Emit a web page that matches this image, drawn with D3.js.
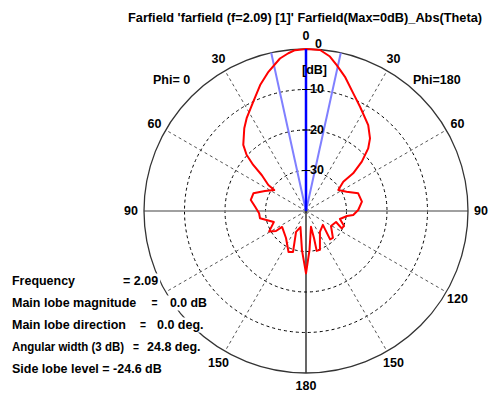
<!DOCTYPE html>
<html>
<head>
<meta charset="utf-8">
<script src="https://cdn.jsdelivr.net/npm/d3@7"></script>
<style>
  body { margin: 0; background: #fff; }
  svg text { font-family: "Liberation Sans", Arial, sans-serif; font-weight: bold; font-size: 12.5px; fill: #000; }
</style>
</head>
<body>
<svg id="chart" width="489" height="394"></svg>
<script>
// Farfield summary values
const frequency = 2.09;
const mainLobeMagnitude = 0.0;
const mainLobeDirection = 0.0;
const angularWidth3dB = 24.8;
const sideLobeLevel = -24.6;

// Polar grid
const dbTicks = [0, -10, -20, -30];
const dbMin = -40;
const angleTicks = [0, 30, 60, 90, 120, 150, 180];
const spokeAngles = [30, 60, 120, 150];

// Abs(Theta) pattern, Phi = 0 half (theta in degrees, level in dB)
const phi0Theta = [0, 3.9, 6.4, 9.7, 15.1, 20.0, 25.7, 32.6, 36.7, 43.5,
  46.6, 48.9, 50.9, 55.4, 56.5, 64.0, 71.4, 78.7, 85.2, 92.8,
  99.0, 109.0, 119.0, 123.7, 123.7, 143.5, 156.9, 162.4, 154.5, 161.0,
  174.1, 180];
const phi0Db = [0, -0.2, -0.8, -1.8, -4.4, -6.9, -10.0, -12.8, -14.5, -17.5,
  -19.8, -22.7, -25.9, -28.7, -30.6, -28.7, -26.3, -26.1, -27.4, -28.4,
  -28.5, -31.6, -29.6, -31.1, -32.9, -31.7, -29.0, -29.4, -34.3, -35.8,
  -30.3, -24.6];

// Abs(Theta) pattern, Phi = 180 half
const phi180Theta = [0, 5.0, 8.8, 11.9, 16.2, 21.9, 27.4, 35.9, 41.4, 44.8,
  48.5, 51.4, 51.9, 57.0, 64.6, 71.3, 80.5, 88.9, 94.8, 97.0,
  103.2, 111.5, 115.9, 110.1, 121.0, 135.0, 139.7, 129.5, 146.3, 160.3,
  165.0, 163.5, 162.6, 174.9, 180];
const phi180Db = [0, -0.1, -1.4, -3.2, -5.5, -8.7, -11.0, -13.8, -16.1, -18.2,
  -21.6, -25.1, -28.3, -30.5, -28.9, -26.4, -26.0, -27.1, -28.3, -29.8,
  -31.4, -29.9, -30.2, -32.1, -32.8, -30.6, -30.8, -34.6, -33.8, -29.8,
  -29.8, -33.0, -35.9, -30.3, -24.6];

const svg = d3.select("#chart");
const cx = 306, cy = 211, R = 162;

const r = d3.scaleLinear().domain([dbMin, 0]).range([0, R]);
// signed theta: Phi=0 side drawn to the left (negative), Phi=180 to the right
const ang = d3.scaleLinear().domain([-180, 180]).range([-Math.PI, Math.PI]);
const px = (a, rr) => cx + rr * Math.sin(ang(a));
const py = (a, rr) => cy - rr * Math.cos(ang(a));

const g = svg.append("g");

// dashed level rings
g.selectAll("circle.ring").data(dbTicks.filter(d => d > dbMin && d < 0)).join("circle")
  .attr("cx", cx).attr("cy", cy).attr("r", d => r(d))
  .attr("fill", "none").attr("stroke", "#000").attr("stroke-width", 1)
  .attr("stroke-dasharray", "3,3");

// dashed spokes on both halves
const spokes = spokeAngles.flatMap(a => [-a, a]);
g.selectAll("line.spoke").data(spokes).join("line")
  .attr("x1", cx).attr("y1", cy)
  .attr("x2", d => px(d, R)).attr("y2", d => py(d, R))
  .attr("stroke", "#555").attr("stroke-width", 1).attr("stroke-dasharray", "3,3");

// 90 axis
g.append("line")
  .attr("x1", px(-90, R)).attr("y1", py(-90, R))
  .attr("x2", px(90, R)).attr("y2", py(90, R))
  .attr("stroke", "#808080").attr("stroke-width", 1.6);
// 180 axis (lower half)
g.append("line")
  .attr("x1", cx).attr("y1", cy)
  .attr("x2", px(180, R)).attr("y2", py(180, R))
  .attr("stroke", "#000").attr("stroke-width", 1.2);

// outer ring
g.append("circle").attr("cx", cx).attr("cy", cy).attr("r", r(0))
  .attr("fill", "none").attr("stroke", "#333").attr("stroke-width", 1.3);

// 3 dB beamwidth limits
g.selectAll("line.bw").data([mainLobeDirection - angularWidth3dB / 2, mainLobeDirection + angularWidth3dB / 2]).join("line")
  .attr("x1", cx).attr("y1", cy)
  .attr("x2", d => px(d, R)).attr("y2", d => py(d, R))
  .attr("stroke", "#8080ff").attr("stroke-width", 2);

// pattern curve
const pts = phi0Theta.map((t, i) => ({ a: -t, db: phi0Db[i] }))
  .concat(phi180Theta.map((t, i) => ({ a: t, db: phi180Db[i] })).reverse().slice(1, -1));
const radial = d3.lineRadial()
  .angle(d => ang(d.a))
  .radius(d => r(Math.max(dbMin, d.db)))
  .curve(d3.curveLinearClosed);
g.append("path").attr("transform", `translate(${cx},${cy})`)
  .attr("d", radial(pts))
  .attr("fill", "none").attr("stroke", "#ff0000").attr("stroke-width", 2)
  .attr("stroke-linejoin", "round");

// main lobe direction
g.append("line")
  .attr("x1", cx).attr("y1", cy)
  .attr("x2", px(mainLobeDirection, r(mainLobeMagnitude))).attr("y2", py(mainLobeDirection, r(mainLobeMagnitude)))
  .attr("stroke", "#0000ff").attr("stroke-width", 2.5);

// level ticks on the vertical axis
g.selectAll("line.tick").data(dbTicks.filter(d => d < 0)).join("line")
  .attr("x1", cx - 4).attr("x2", cx + 4)
  .attr("y1", d => cy - r(d)).attr("y2", d => cy - r(d))
  .attr("stroke", "#000").attr("stroke-width", 1);

// level labels
g.selectAll("text.db").data(dbTicks).join("text")
  .attr("x", d => cx + (d === 0 ? 9 : 4))
  .attr("y", d => cy - r(d) + (d === 0 ? -1 : 3.5))
  .text(d => Math.abs(d));
g.append("text").attr("x", cx - 4).attr("y", 74).text("[dB]");

// angle labels on both halves (the lower-left 120 sits under the summary block)
const angleLabels = angleTicks.flatMap(a => (a === 0 || a === 180) ? [a] : [-a, a])
  .filter(a => a !== -120);
g.selectAll("text.ang").data(angleLabels).join("text")
  .attr("x", d => px(d, R + 13)).attr("y", d => py(d, R + 13))
  .attr("text-anchor", "middle").attr("dominant-baseline", "central")
  .text(d => Math.abs(d));

g.append("text").attr("x", 153).attr("y", 83.5).text("Phi= 0");
g.append("text").attr("x", 413).attr("y", 84).text("Phi=180");

// title
svg.append("text").attr("x", 128).attr("y", 21.5)
  .attr("textLength", 354).attr("lengthAdjust", "spacingAndGlyphs")
  .text(`Farfield 'farfield (f=${frequency.toFixed(2)}) [1]' Farfield(Max=0dB)_Abs(Theta)`);

// summary block, each line on an opaque background: [text, x, max width]
const rows = [
  [["Frequency", 12, 63], [`= ${frequency.toFixed(2)}`, 123, 47]],
  [["Main lobe magnitude", 12, 125], ["=", 151.5, 6], [`${mainLobeMagnitude.toFixed(1)} dB`, 170, 37]],
  [["Main lobe direction", 12, 115], ["=", 140, 6], [`${mainLobeDirection.toFixed(1)} deg.`, 157, 49]],
  [["Angular width (3 dB)", 12, 112], ["=", 133, 6], [`${angularWidth3dB.toFixed(1)} deg.`, 147, 58]],
  [[`Side lobe level = ${sideLobeLevel.toFixed(1)} dB`, 12, 155]]
];
const info = svg.append("g");
rows.forEach((row, i) => {
  const base = 285 + i * 22;
  const bg = info.append("rect").attr("fill", "#fff");
  const t = info.append("text").attr("y", base);
  row.forEach(([s, x, w]) => {
    const ts = t.append("tspan").attr("x", x).text(s);
    // condense only pieces that would run into the next one
    if (ts.node().getComputedTextLength() > w)
      ts.attr("textLength", w).attr("lengthAdjust", "spacingAndGlyphs");
  });
  const bb = t.node().getBBox();
  bg.attr("x", 10).attr("y", base - 11.5).attr("width", bb.x + bb.width - 8).attr("height", 15);
});
</script>
</body>
</html>
